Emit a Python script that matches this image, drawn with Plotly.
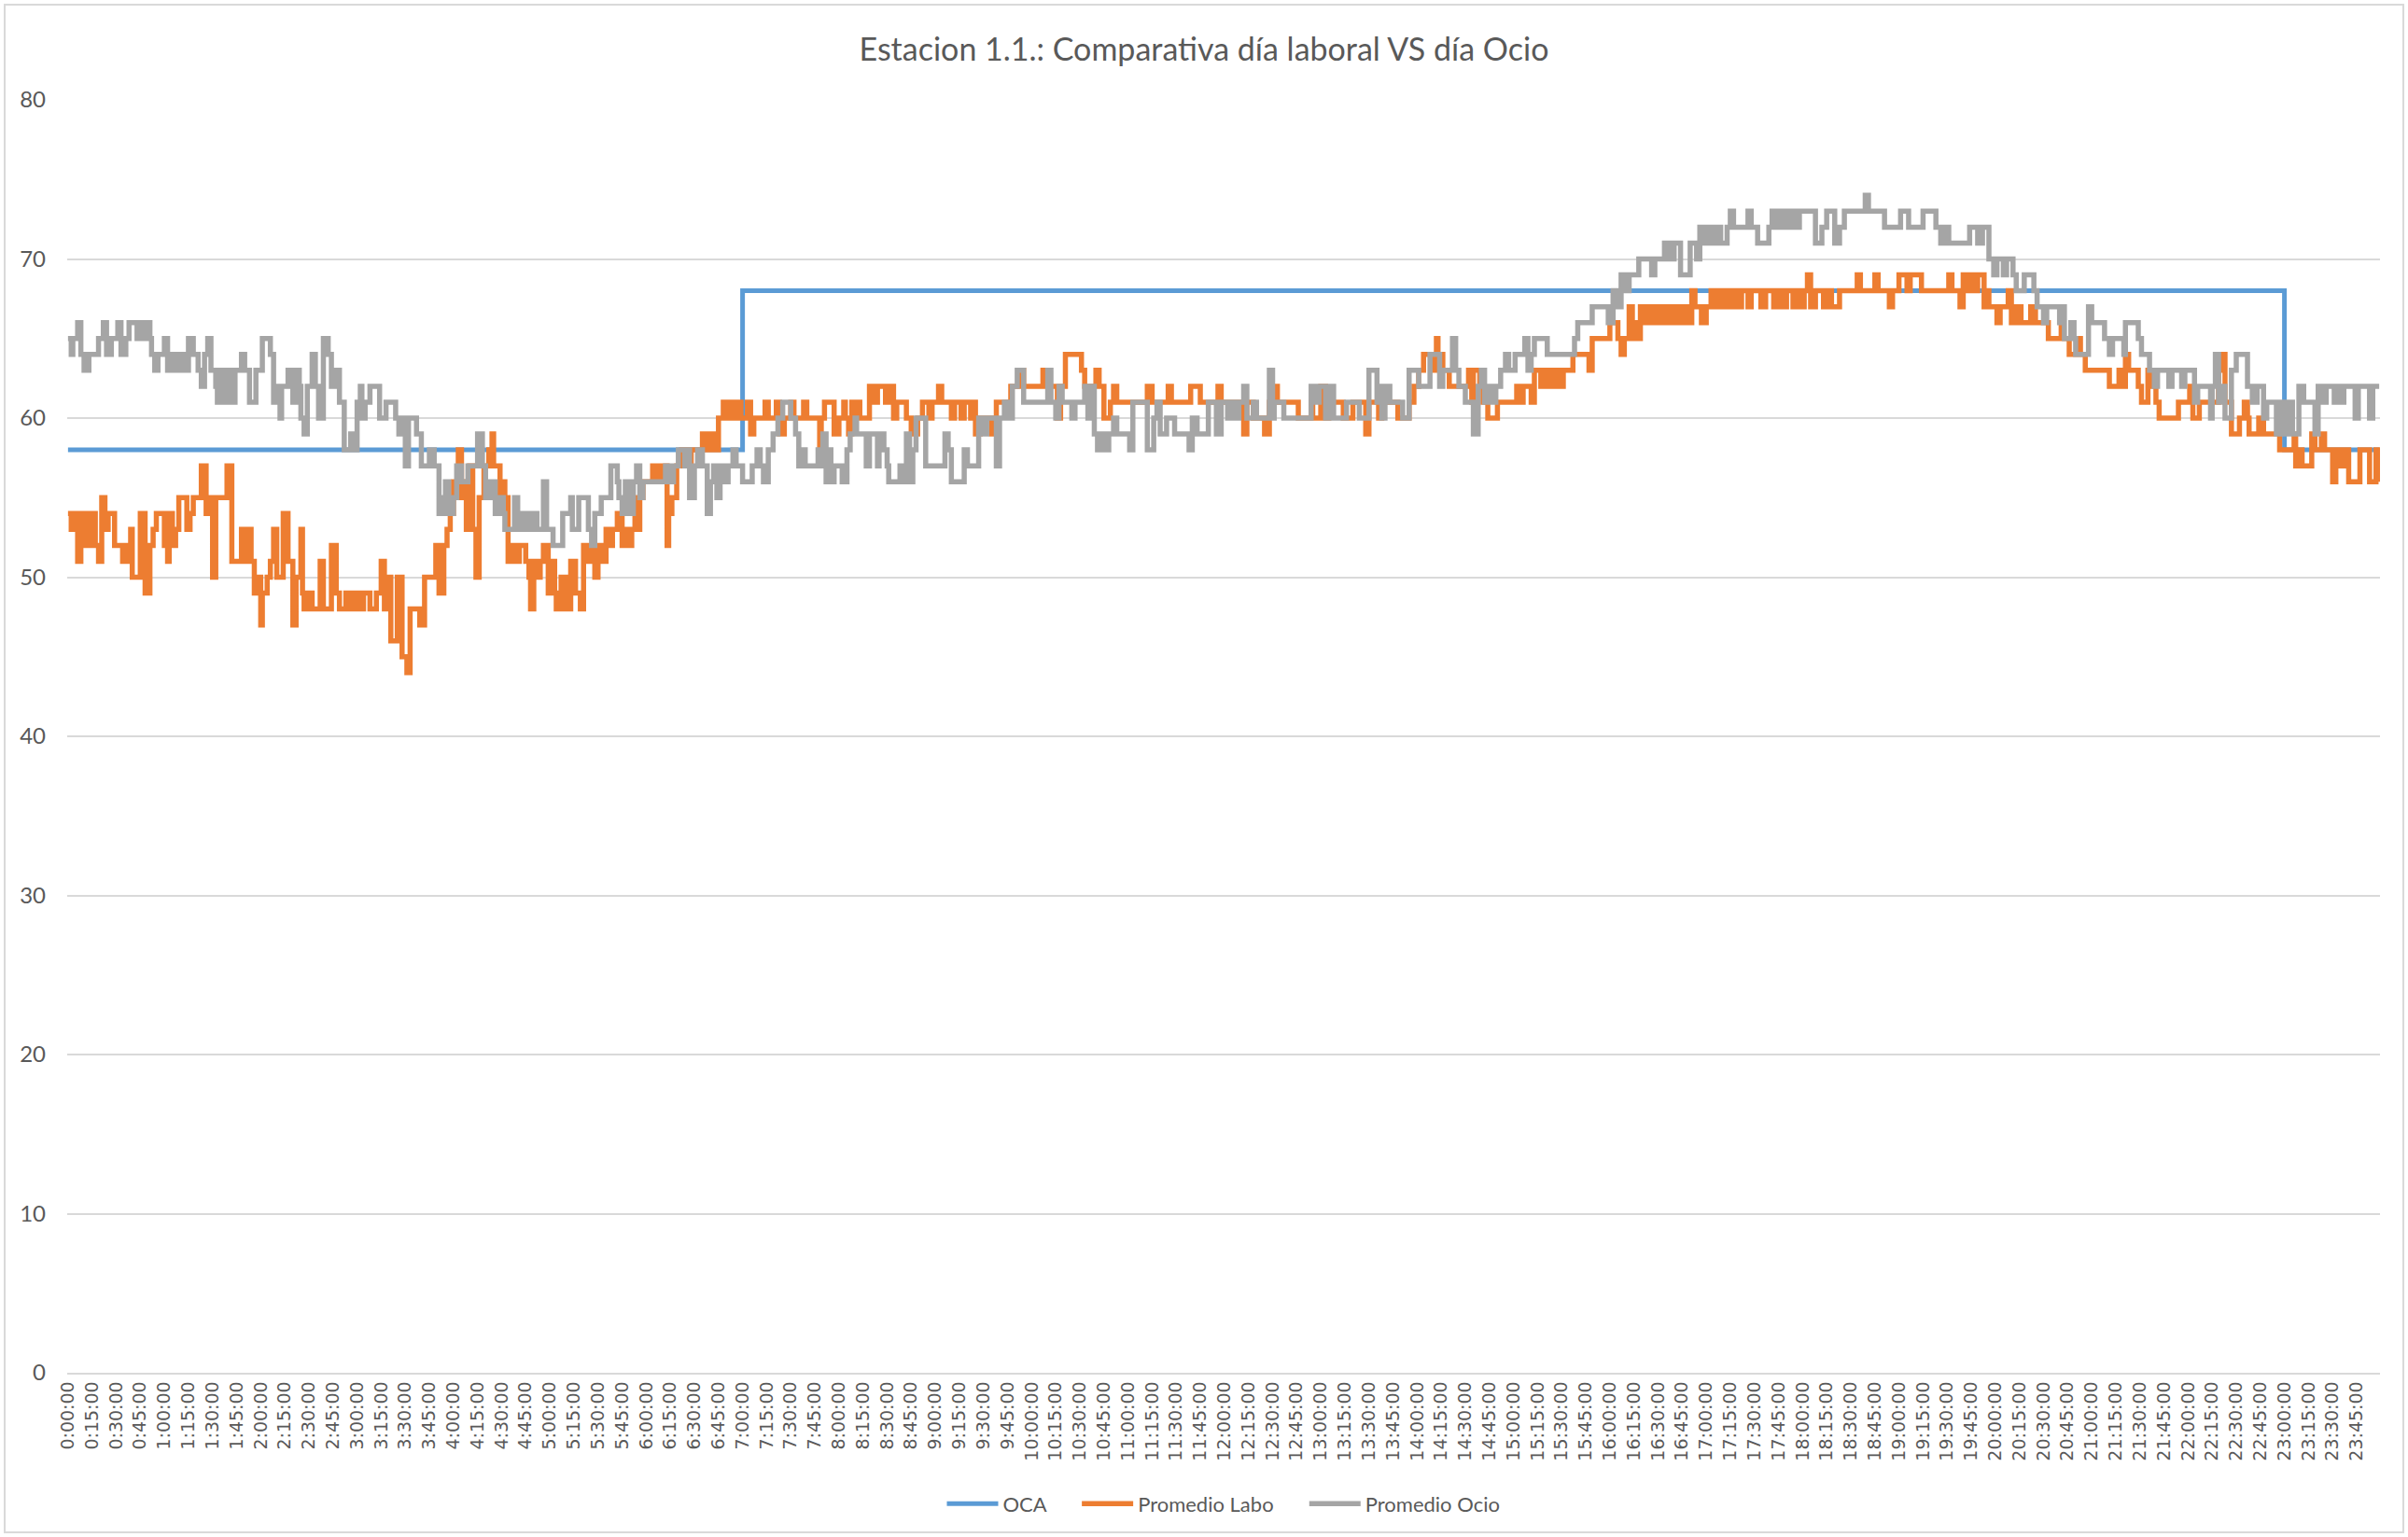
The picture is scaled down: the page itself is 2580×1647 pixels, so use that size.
import plotly.graph_objects as go

# ---- data (minute of day -> value at which the level changes) ----
oca_min = [0, 420, 1380, 1439]
oca_val = [58, 68, 58, 58]

labo_points = [
    (0,54),(2,53),(3,54),(6,51),(8,54),(11,52),(13,54),(14,52),(16,54),(17,52),(19,51),(21,55),(23,53),(25,54),
    (29,52),(34,51),(36,52),(38,51),(39,53),(40,50),(45,54),(48,49),(51,52),(53,53),(55,54),(60,52),(62,51),(63,54),
    (65,52),(67,53),(69,55),(74,53),(76,54),(78,55),(83,57),(86,54),(88,55),(90,50),(92,55),(99,57),(102,51),(108,53),
    (109,51),(111,53),(114,51),(116,49),(118,50),(120,47),(121,49),(124,50),(126,51),(128,53),(130,50),(134,54),
    (137,51),(140,47),(142,50),(145,53),(146,49),(147,48),(150,49),(152,48),(157,51),(159,48),(164,52),(167,49),
    (169,48),(173,49),(176,48),(178,49),(181,48),(184,49),(188,48),(192,49),(195,51),(197,48),(199,50),(201,46),
    (205,50),(208,45),(211,44),(213,48),(219,47),(222,50),(229,52),
    (231,49),(234,52),(236,53),(238,55),(239,54),(240,56),(243,58),(245,55),(247,56),(248,53),(250,57),(252,53),
    (254,50),(256,55),(259,57),(262,58),(264,59),(265,57),(269,55),(271,56),(272,55),(274,51),(276,52),(279,51),
    (281,52),(285,51),(287,50),(288,48),(290,51),(292,50),(294,51),(296,52),(299,49),(301,51),(303,49),(304,48),
    (307,50),(310,48),(313,51),(316,49),(319,48),(321,52),(324,51),(326,52),(328,50),(330,52),(333,51),(335,53),
    (337,52),(339,53),(342,54),(345,52),(347,53),(349,52),(351,53),(353,55),(355,53),(356,55),(358,56),(364,57),
    (367,56),(370,57),(373,52),(374,54),(376,55),(379,57),(382,58),(385,57),(388,58),(395,59),(398,58),(401,59),
    (403,58),(405,60),(408,61),(410,60),(412,61),(414,60),(416,61),(419,60),(423,61),(425,59),(427,60),(434,61),
    (436,60),(441,61),(443,59),(446,60),(450,61),(452,60),(458,61),(460,60),(468,58),
    (469,60),(471,61),(477,59),(480,60),(483,61),(484,60),(486,59),(488,61),(490,60),(492,61),(493,60),(499,62),
    (502,61),(504,62),(509,61),(511,62),(514,60),(516,61),(522,60),(525,59),(529,60),(532,61),(536,60),(538,61),
    (542,62),(544,61),(550,60),(552,61),(556,60),(558,61),(562,60),(564,61),(565,59),(568,60),(575,59),(578,61),
    (587,62),(593,63),(595,62),(607,63),(609,62),(616,60),(618,62),(621,64),(631,63),(633,62),(640,63),(642,62),
    (645,60),(649,61),(651,62),(653,61),(672,62),(675,61),(685,62),(687,61),(699,62),(705,61),
    (716,62),(718,61),(732,59),(734,61),(738,60),(745,59),(748,61),(751,62),(753,61),(766,60),(774,61),(775,60),
    (780,62),(783,60),(785,61),(794,60),(800,61),(808,59),(810,61),(816,60),(818,61),(828,60),(835,61),(838,62),
    (841,63),(844,64),(849,63),(852,65),(853,64),(856,63),(860,62),(872,63),(874,61),(875,63),(879,62),(881,61),
    (884,60),(890,61),(902,62),(904,61),(906,62),(911,61),(913,63),(917,62),(920,63),(922,62),(925,63),(928,62),
    (931,63),(937,64),
    (946,64),(947,63),(949,65),(960,66),(965,65),(967,64),(969,65),(972,67),(974,65),(976,66),(977,65),(979,67),
    (981,66),(984,67),(986,66),(989,67),(991,66),(994,67),(997,66),(999,67),(1002,66),(1005,67),(1008,66),
    (1011,68),(1013,67),(1017,66),(1020,67),(1023,68),(1025,67),(1028,68),(1030,67),(1032,68),(1035,67),
    (1037,68),(1040,67),(1042,68),(1046,67),(1048,68),(1054,67),(1057,68),(1062,67),(1065,68),(1067,67),
    (1070,68),(1074,67),(1076,68),(1079,67),(1081,68),(1083,69),(1085,67),(1088,68),(1093,67),(1095,68),
    (1098,67),(1103,68),(1114,69),(1116,68),(1125,69),(1127,68),(1134,67),(1136,68),(1140,69),(1145,68),
    (1147,69),(1154,68),(1171,69),(1173,68),(1178,67),(1180,69),(1183,68),
    (1184,69),(1187,68),(1189,69),(1193,67),(1194,68),(1196,67),(1201,66),(1203,67),(1208,68),(1210,66),
    (1213,67),(1216,66),(1222,67),(1225,66),(1233,65),(1241,66),(1242,65),(1246,64),(1251,65),(1253,64),
    (1256,63),(1271,62),(1277,63),(1279,62),(1281,64),(1283,63),(1289,62),(1291,61),(1295,63),(1298,62),
    (1300,61),(1302,60),(1314,61),(1321,62),(1323,60),(1327,61),(1339,63),(1341,64),(1343,61),(1347,59),
    (1352,60),(1355,61),(1357,60),(1358,59),(1364,60),(1367,59),(1377,58),(1386,59),(1387,57),(1389,58),
    (1391,57),(1397,59),(1399,58),(1403,59),(1405,58),(1410,56),(1412,58),(1414,57),(1417,58),(1420,56),
    (1427,58),(1433,56),(1437,58),(1439,56),
]

ocio_points = [
    (0,65),(2,64),(3,65),(6,66),(8,64),(10,63),(13,64),(19,65),(22,66),(24,64),(27,65),(31,66),(33,64),(36,65),
    (38,66),(43,65),(44,66),(47,65),(48,66),(51,65),(52,64),(54,63),(56,64),(60,65),(62,63),(64,64),(65,63),
    (67,64),(69,63),(71,64),(73,63),(75,65),(78,64),(81,63),(83,62),(85,64),(87,65),(89,63),(92,62),(93,61),
    (95,63),(98,61),(100,63),(102,61),(104,63),(108,64),(110,63),(113,61),(117,63),(121,65),(126,64),(128,61),
    (130,62),(132,60),(133,62),(137,63),(140,61),(142,63),(144,62),(145,60),(147,59),(149,62),(152,64),(154,62),
    (156,60),(159,65),(162,64),(164,62),(167,63),(169,61),(172,58),(176,59),(179,58),(180,61),(182,62),(183,60),
    (185,61),(188,62),(194,60),(198,61),(204,60),(206,59),(208,60),(210,57),(212,60),(217,59),(220,57),(225,58),
    (228,57),
    (231,54),(234,55),(235,56),(237,54),(240,55),(242,57),(245,56),(249,57),(255,59),(258,57),(260,55),(263,56),
    (266,54),(269,55),(271,54),(272,53),(278,55),(280,53),(283,54),(286,53),(289,54),(292,53),(296,56),(298,53),
    (302,52),(308,54),(313,55),(314,53),(318,55),(324,53),(326,52),(328,54),(332,55),(338,57),(342,56),(343,55),
    (345,54),(347,56),(349,54),(352,56),(354,57),(356,55),(358,56),(372,57),(374,56),(377,57),(380,58),(384,57),
    (386,58),(387,55),(390,57),(392,58),(395,57),(398,54),(400,56),(402,57),(404,55),(406,57),(408,56),(411,57),
    (414,58),(416,57),(420,56),(426,57),(429,58),(431,57),(433,56),(436,58),(439,59),(442,60),(445,61),(450,60),
    (453,59),(455,57),(457,58),(459,57),(467,58),
    (469,57),(470,59),(472,56),(474,58),(475,56),(477,57),(482,56),(485,58),(487,59),(490,60),(491,59),(497,57),
    (499,59),(504,57),(505,59),(508,58),(510,57),(511,56),(518,57),(520,56),(521,57),(522,59),(524,56),(526,58),
    (528,60),(534,57),(546,59),(548,58),(550,56),(558,58),(560,57),(567,60),(570,59),(572,60),(578,57),(580,60),
    (583,61),(585,60),(588,62),(591,63),(595,61),(610,63),(612,61),(615,60),(617,62),(619,61),(625,60),(627,61),
    (633,62),(635,60),(637,62),(639,59),(641,58),(644,59),(646,58),(648,59),(651,60),(653,59),(661,58),(663,61),
    (672,58),(676,60),(678,61),(680,59),(684,60),(689,59),(698,58),(700,60),(703,59),
    (707,59),(710,61),(715,59),(718,61),(722,60),(724,61),(727,60),(729,61),(732,62),(734,60),(738,61),(740,60),
    (748,63),(750,60),(751,61),(757,60),(774,62),(777,61),(779,62),(783,60),(786,62),(788,60),(796,61),(804,60),
    (810,63),(815,61),(817,62),(818,60),(820,62),(823,61),(831,60),(835,63),(841,62),(848,64),(854,62),(856,63),
    (862,65),(864,63),(866,62),(870,61),(875,59),(878,62),(880,63),(882,61),(883,62),(886,61),(889,62),(892,63),
    (895,64),(897,63),(901,64),(907,65),(909,63),(911,64),(913,65),(921,64),(938,65),(940,66),
    (946,66),(949,67),(959,66),(962,68),(964,67),(967,69),(970,68),(972,69),(978,70),(986,69),(988,70),(994,71),
    (997,70),(1000,71),(1004,69),(1010,71),(1014,70),(1016,72),(1019,71),(1022,72),(1025,71),(1027,72),
    (1029,71),(1033,72),(1035,73),(1037,72),(1046,73),(1048,72),(1052,71),(1059,72),(1061,73),(1064,72),
    (1066,73),(1069,72),(1072,73),(1075,72),(1078,73),(1088,71),(1092,72),(1095,73),(1100,71),(1103,72),
    (1106,73),(1119,74),(1121,73),(1131,72),(1141,73),(1146,72),(1155,73),(1163,72),(1166,71),(1168,72),
    (1171,71),
    (1184,72),(1189,71),(1192,72),(1196,70),(1199,69),(1201,70),(1205,69),(1207,70),(1211,69),(1213,68),
    (1218,69),(1224,68),(1226,67),(1230,66),(1232,67),(1240,66),(1241,67),(1243,65),(1247,66),(1249,65),
    (1250,64),(1258,67),(1260,66),(1268,65),(1271,64),(1273,65),(1280,64),(1281,66),(1289,65),(1291,64),
    (1296,63),(1299,62),(1301,63),(1308,62),(1310,63),(1316,62),(1318,63),(1324,61),(1326,62),(1334,60),
    (1335,62),(1337,64),(1339,61),(1341,62),(1343,60),(1347,63),(1350,64),(1357,62),(1360,61),(1363,62),
    (1367,60),(1369,61),(1375,59),(1377,61),(1380,59),(1382,61),(1385,59),(1389,62),(1392,61),(1399,59),
    (1401,62),(1404,61),(1406,62),(1411,61),(1413,62),(1415,61),(1417,62),(1424,60),(1426,62),(1433,60),
    (1435,62),(1439,62),
]

labo_min = [p[0] for p in labo_points]
labo_val = [p[1] for p in labo_points]
ocio_min = [p[0] for p in ocio_points]
ocio_val = [p[1] for p in ocio_points]

tick_minutes = list(range(0, 1440, 15))
tick_labels = [f"{m // 60}:{m % 60:02d}:00" for m in tick_minutes]

series_names = ["OCA", "Promedio Labo", "Promedio Ocio"]

TXT = "#595959"
GRID = "#D9D9D9"
PAD = "\u00a0" * 5  # visual gap between legend entries

fig = go.Figure()
fig.add_trace(go.Scatter(x=oca_min, y=oca_val, name=series_names[0] + PAD, mode="lines",
                         line=dict(color="#5B9BD5", width=5, shape="hv")))
fig.add_trace(go.Scatter(x=labo_min, y=labo_val, name=series_names[1] + PAD, mode="lines",
                         line=dict(color="#ED7D31", width=5.5, shape="hv")))
fig.add_trace(go.Scatter(x=ocio_min, y=ocio_val, name=series_names[2], mode="lines",
                         line=dict(color="#A5A5A5", width=5.5, shape="hv")))

fig.update_layout(
    width=2580, height=1647,
    paper_bgcolor="white", plot_bgcolor="white",
    margin=dict(l=72, r=30, t=107, b=176, autoexpand=False),
    title=dict(text="Estacion 1.1.: Comparativa día laboral VS día Ocio",
               x=0.5, xref="container", xanchor="center",
               y=1 - 53 / 1647, yref="container", yanchor="middle",
               font=dict(family="Lato", size=34, color=TXT)),
    showlegend=True,
    legend=dict(orientation="h", x=0.5, xanchor="center", y=-0.103, yanchor="middle",
                font=dict(family="Lato", size=22, color=TXT), itemwidth=55,
                traceorder="normal"),
    xaxis=dict(range=[-0.5, 1439.5], tickmode="array", tickvals=tick_minutes, ticktext=tick_labels,
               tickangle=-90, tickfont=dict(family="DejaVu Sans", size=19, color=TXT),
               showgrid=False, zeroline=False, showline=True, linecolor=GRID, linewidth=1.5,
               ticks="", fixedrange=True),
    yaxis=dict(range=[0, 80], dtick=10, tick0=0, showgrid=True, gridcolor=GRID, gridwidth=1.5,
               zeroline=False, showline=False, ticks="", ticklabelstandoff=22,
               tickfont=dict(family="Lato", size=24, color=TXT), fixedrange=True),
    shapes=[dict(type="rect", xref="paper", yref="paper",
                 x0=(5 - 72) / 2478, x1=(2575 - 72) / 2478,
                 y0=(1471 - 1642) / 1364, y1=(1471 - 5) / 1364,
                 line=dict(color=GRID, width=2), fillcolor="rgba(0,0,0,0)", layer="below")],
)

fig.write_html("out.html", config={"displayModeBar": False},
               post_script="document.body.style.margin='0';")
